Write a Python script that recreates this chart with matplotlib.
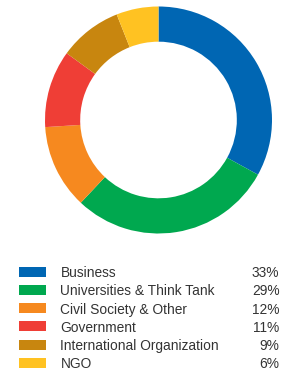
import matplotlib
matplotlib.use("Agg")
import matplotlib.pyplot as plt
from matplotlib.patches import Rectangle

categories = ["Business", "Universities & Think Tank", "Civil Society & Other",
              "Government", "International Organization", "NGO"]
values = [33, 29, 12, 11, 9, 6]
labels_pct = ["33%", "29%", "12%", "11%", "9%", "6%"]
colors = ["#0066B3", "#00A84F", "#F6891F", "#EF3E36", "#C8860F", "#FFC222"]

W, H = 284, 375
fig = plt.figure(figsize=(W / 100, H / 100), dpi=100)
ax = fig.add_axes([0, 0, 1, 1])

cx, cy, r = 158.5, H - 120, 113.5
ax.pie(values, colors=colors, startangle=90, counterclock=False,
       center=(cx, cy), radius=r,
       wedgeprops=dict(width=r * 0.31, linewidth=0))
ax.set_xlim(0, W)
ax.set_ylim(0, H)
ax.set_aspect("equal")
ax.axis("off")

font = "Liberation Sans"
y0 = 271.5
dy = 18.3
for i, (c, lab, p) in enumerate(zip(categories, labels_pct, colors)):
    yc = H - (y0 + i * dy)
    ax.add_patch(Rectangle((19, yc - 5), 27, 10, facecolor=p, edgecolor="none"))
    ax.text(60.5, yc, c, fontsize=9.9, family=font, color="#333333",
            va="center_baseline", ha="left")
    ax.text(279.5, yc, lab, fontsize=9.9, family=font, color="#333333",
            va="center_baseline", ha="right")

fig.savefig("out.png", dpi=100)
